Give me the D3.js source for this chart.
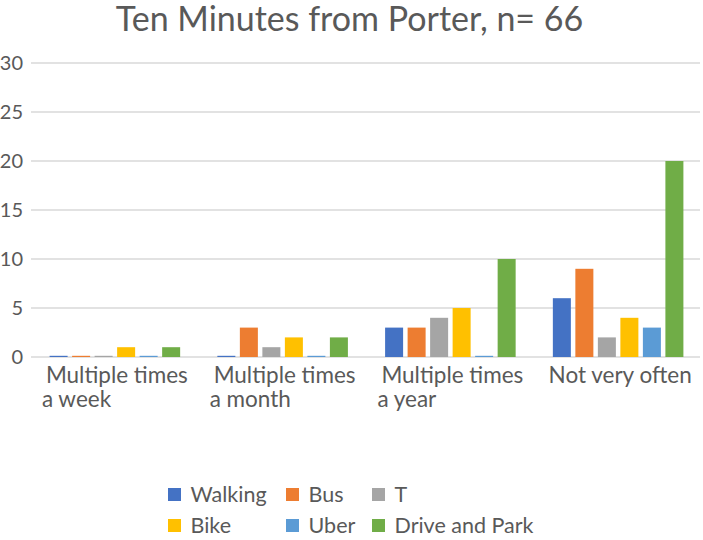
<!DOCTYPE html>
<html><head><meta charset="utf-8">
<script src="https://cdn.jsdelivr.net/npm/d3@7"></script>
<style>body{margin:0;background:#fff}svg{display:block}text{font-family:Lato,"Open Sans",sans-serif;fill:#595959}</style>
</head><body>
<script>
const categories = [["Multiple times","a week"],["Multiple times","a month"],["Multiple times","a year"],["Not very often"]];
const seriesNames = ["Walking","Bus","T","Bike","Uber","Drive and Park"];
const colors = ["#4472C4","#ED7D31","#A5A5A5","#FFC000","#5B9BD5","#70AD47"];
const walking = [0,0,3,6];
const bus = [0,3,3,9];
const tSeries = [0,1,4,2];
const bike = [1,2,5,4];
const uber = [0,0,0,3];
const drive = [1,2,10,20];
const yTicks = [0,5,10,15,20,25,30];
const title = "Ten Minutes from Porter, n= 66";

(function(){
const series = [walking,bus,tSeries,bike,uber,drive];
const W=703,H=540;
const svg=d3.select("body").append("svg").attr("width",W).attr("height",H);
const pl=31,pr=702,pt=63,pb=357;
const x0=d3.scaleBand().domain(d3.range(categories.length)).range([pl,pr]);
const x1=d3.scaleBand().domain(d3.range(seriesNames.length)).range([18.6,x0.bandwidth()-18.6]).paddingInner(0.2).paddingOuter(0);
const y=d3.scaleLinear().domain([0,30]).range([pb,pt]);

svg.append("text").attr("x",349.5).attr("y",31).attr("text-anchor","middle").style("font-size","34px").text(title);

svg.append("g").selectAll("line").data(yTicks).join("line")
 .attr("x1",pl).attr("x2",700).attr("y1",d=>y(d)).attr("y2",d=>y(d))
 .attr("stroke","#D9D9D9").attr("stroke-width",1.3);
svg.append("g").selectAll("text").data(yTicks).join("text")
 .attr("x",23).attr("y",d=>y(d)).attr("dy","0.36em").attr("text-anchor","end").style("font-size","20px").text(d=>d);

const g=svg.append("g");
series.forEach((vals,si)=>{
  g.selectAll(null).data(vals).join("rect")
   .attr("x",(d,ci)=>x0(ci)+x1(si)).attr("width",x1.bandwidth())
   .attr("y",d=>Math.min(y(d),y(0)-1.2)).attr("height",d=>Math.max(y(0)-y(d),1.2))
   .attr("fill",colors[si]);
});

categories.forEach((lines,ci)=>{
  const cx=x0(ci)+x0.bandwidth()/2+2;
  const t=svg.append("text").style("font-size","22.5px");
  const sp=lines.map((l,li)=>t.append("tspan").attr("y",383+li*24).text(l));
  const w1=sp[0].node().getComputedTextLength();
  const x1s=cx-w1/2;
  sp.forEach((s,i)=>s.attr("x", i===0 ? x1s : x1s-4));
});

const legPos=[[168,494],[286,494],[372,494],[168,525],[286,525],[372,525]];
seriesNames.forEach((n,i)=>{
  const [lx,ly]=legPos[i];
  svg.append("rect").attr("x",lx).attr("y",ly-6).attr("width",13).attr("height",13).attr("fill",colors[i]);
  svg.append("text").attr("x",lx+22.5).attr("y",ly).attr("dy","0.36em").style("font-size","21.5px").text(n);
});
})();
</script>
</body></html>
